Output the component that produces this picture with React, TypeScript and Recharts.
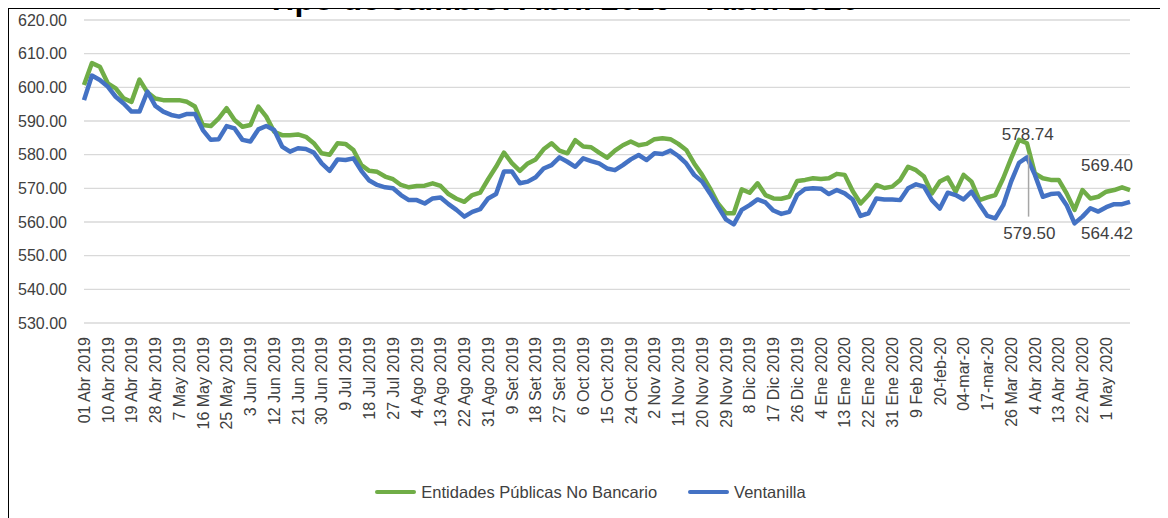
import { LineChart, Line, XAxis, YAxis, CartesianGrid, Legend, ReferenceDot, ReferenceLine } from "recharts"

const FONT = "'Liberation Sans', Arial, sans-serif"
const TEXT = "#404040"

// one tick label every 9 days; data is sampled every 3 days (3 samples per label)
const tickLabels = [
  "01 Abr 2019", "10 Abr 2019", "19 Abr 2019", "28 Abr 2019", "7 May 2019", "16 May 2019",
  "25 May 2019", "3 Jun 2019", "12 Jun 2019", "21 Jun 2019", "30 Jun 2019", "9 Jul 2019",
  "18 Jul 2019", "27 Jul 2019", "4 Ago 2019", "13 Ago 2019", "22 Ago 2019", "31 Ago 2019",
  "9 Set 2019", "18 Set 2019", "27 Set 2019", "6 Oct 2019", "15 Oct 2019", "24 Oct 2019",
  "2 Nov 2019", "11 Nov 2019", "20 Nov 2019", "29 Nov 2019", "8 Dic 2019", "17 Dic 2019",
  "26 Dic 2019", "4 Ene 2020", "13 Ene 2020", "22 Ene 2020", "31 Ene 2020", "9 Feb 2020",
  "20-feb-20", "04-mar-20", "17-mar-20", "26 Mar 2020", "4 Abr 2020", "13 Abr 2020",
  "22 Abr 2020", "1 May 2020",
]

const yTicks = [530, 540, 550, 560, 570, 580, 590, 600, 610, 620]

const entidades = [
  600.7, 607.2, 606.1, 601.2, 599.7, 596.7, 595.7, 602.3, 598.5, 596.7,
  596.2, 596.2, 596.2, 595.7, 594.3, 588.8, 588.5, 590.8, 593.8, 590.3,
  588.3, 588.8, 594.3, 591.3, 586.8, 585.8, 585.8, 586.0, 585.3, 583.4,
  580.4, 580.0, 583.4, 583.2, 581.4, 576.9, 575.2, 574.9, 573.5, 572.7,
  571.0, 570.3, 570.7, 570.8, 571.5, 570.7, 568.3, 566.9, 566.0, 568.0,
  568.7, 572.7, 576.4, 580.6, 577.5, 575.2, 577.4, 578.6, 581.6, 583.4,
  581.2, 580.4, 584.3, 582.4, 582.2, 580.6, 579.1, 581.2, 582.8, 583.9,
  582.8, 583.2, 584.6, 584.9, 584.6, 583.2, 581.4, 577.4, 574.0, 570.0,
  565.5, 562.6, 562.6, 569.7, 568.7, 571.5, 568.0, 567.0, 566.9, 567.5,
  572.2, 572.5, 573.0, 572.8, 573.0, 574.3, 574.0, 569.2, 565.5, 568.0,
  571.0, 570.1, 570.5, 572.5, 576.4, 575.4, 573.5, 568.5, 572.0, 573.2,
  569.0, 574.0, 572.0, 566.5, 567.3, 568.0, 573.0, 578.9, 584.4, 583.4,
  574.4, 573.0, 572.5, 572.5, 568.5, 563.6, 569.5, 567.0, 567.5, 569.0,
  569.5, 570.3, 569.5,
]

const ventanilla = [
  596.2, 603.5, 602.2, 600.2, 597.2, 595.2, 592.8, 592.8, 598.7, 594.5,
  592.8, 591.8, 591.3, 592.1, 592.1, 587.3, 584.4, 584.6, 588.5, 587.8,
  584.4, 583.9, 587.5, 588.5, 587.3, 582.4, 580.9, 581.9, 581.7, 580.6,
  577.4, 575.2, 578.6, 578.4, 578.9, 575.2, 572.3, 571.0, 570.3, 570.0,
  568.0, 566.5, 566.5, 565.5, 567.0, 567.3, 565.3, 563.6, 561.6, 563.0,
  563.8, 567.0, 568.3, 575.0, 575.0, 571.5, 572.0, 573.3, 575.9, 576.9,
  579.2, 577.9, 576.4, 578.9, 578.1, 577.4, 575.9, 575.4, 576.9, 578.6,
  579.9, 578.4, 580.4, 580.2, 581.2, 579.6, 577.4, 574.0, 572.0, 568.5,
  564.6, 560.8, 559.3, 563.6, 565.0, 566.7, 565.8, 563.4, 562.4, 563.0,
  568.0, 569.8, 570.0, 569.9, 568.3, 569.5, 568.5, 566.7, 561.8, 562.6,
  567.0, 566.7, 566.7, 566.5, 570.0, 571.2, 570.5, 566.5, 564.0, 568.7,
  568.0, 566.7, 569.0, 565.3, 561.8, 561.1, 565.0, 572.0, 577.6, 579.2,
  574.0, 567.5, 568.3, 568.5, 565.0, 559.6, 561.6, 564.1, 563.1, 564.4,
  565.3, 565.3, 566.0,
]

const annotations = [
  { text: "578.74", x: 119.1, y: 586.2 },
  { text: "569.40", x: 129.1, y: 577.0 },
  { text: "579.50", x: 119.3, y: 556.8 },
  { text: "564.42", x: 129.1, y: 556.8 },
]

const data = entidades.map((v, i) => ({ i, entidades: v, ventanilla: ventanilla[i] }))

function XTick({ x, y, payload }: any) {
  const label = tickLabels[Math.round(payload.value / 3)]
  return (
    <text
      x={x}
      y={y}
      transform={`rotate(-90 ${x} ${y})`}
      textAnchor="end"
      dy="0.36em"
      fontSize={16}
      fontFamily={FONT}
      fill={TEXT}
    >
      {label}
    </text>
  )
}

function LegendContent() {
  const item = (color: string, text: string) => (
    <span style={{ display: "inline-flex", alignItems: "center", marginRight: 31 }}>
      <span style={{ display: "inline-block", width: 41, height: 4, borderRadius: 2, background: color, marginRight: 5 }} />
      <span>{text}</span>
    </span>
  )
  return (
    <div style={{ height: 24, display: "flex", justifyContent: "center", alignItems: "center", paddingLeft: 82, fontFamily: FONT, fontSize: 16.5, color: TEXT }}>
      {item("#70AD47", "Entidades Públicas No Bancario")}
      {item("#4472C4", "Ventanilla")}
    </div>
  )
}

export default function App() {
  return (
    <div style={{ position: "relative", margin: "-8px 0 0 -8px", width: 1168, height: 518, overflow: "hidden", background: "#fff" }}>
      <div style={{ position: "absolute", left: 6, top: 6, right: -10, bottom: -10, borderLeft: "3px solid #000", borderTop: "3px solid #000" }} />
      <LineChart width={1168} height={518} data={data} margin={{ top: 20, right: 38, left: 0, bottom: 14 }}>
        <CartesianGrid vertical={false} stroke="#D9D9D9" strokeWidth={1.3} />
        <XAxis
          dataKey="i"
          type="number"
          domain={[0, 132]}
          ticks={tickLabels.map((_, k) => k * 3)}
          interval={0}
          tick={<XTick />}
          axisLine={false}
          tickLine={false}
          tickSize={0}
          tickMargin={14}
          height={157}
        />
        <YAxis
          domain={[530, 620]}
          ticks={yTicks}
          tickFormatter={(v: number) => v.toFixed(2)}
          axisLine={false}
          tickLine={false}
          tickSize={0}
          tickMargin={17}
          width={84}
          tick={{ fontSize: 16, fontFamily: FONT, fill: TEXT }}
        />
        <Line type="linear" dataKey="entidades" name="Entidades Públicas No Bancario" stroke="#70AD47" strokeWidth={4.5} dot={false} strokeLinejoin="round" isAnimationActive={false} />
        <Line type="linear" dataKey="ventanilla" name="Ventanilla" stroke="#4472C4" strokeWidth={4.5} dot={false} strokeLinejoin="round" isAnimationActive={false} />
        <ReferenceLine segment={[{ x: 119.2, y: 580 }, { x: 119.2, y: 561.6 }]} stroke="#A6A6A6" strokeWidth={1.5} />
        {annotations.map((a) => (
          <ReferenceDot
            key={a.text}
            x={a.x}
            y={a.y}
            r={0}
            fill="none"
            stroke="none"
            label={{ value: a.text, position: "center", fill: TEXT, fontSize: 17, fontFamily: FONT }}
          />
        ))}
        <Legend verticalAlign="bottom" content={<LegendContent />} />
      </LineChart>
      <div
        style={{
          position: "absolute",
          left: 0,
          top: -16,
          width: 1126,
          textAlign: "center",
          fontFamily: FONT,
          fontSize: 32,
          lineHeight: "31px",
          fontWeight: "bold",
          color: "#000",
          whiteSpace: "nowrap",
          zIndex: 5,
          pointerEvents: "none",
        }}
      >
        Tipo de cambio: Abril 2019 – Abril 2020
      </div>
    </div>
  )
}
